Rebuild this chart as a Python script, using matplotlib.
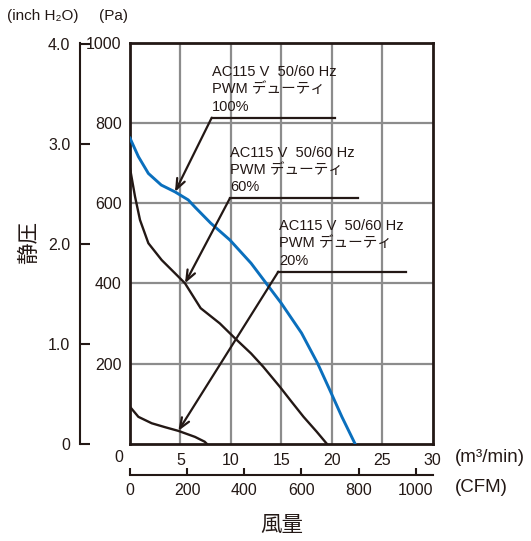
import matplotlib
matplotlib.use('Agg')
import matplotlib.pyplot as plt
from matplotlib import font_manager

# --- data ---
# airflow in m3/min, static pressure in Pa
flow_100 = [0, 0.83, 1.82, 3.1, 4.46, 5.77, 6.44, 8, 9.9, 12, 13.5, 15, 17, 18.6, 19.8, 21, 22.3]
pa_100 = [762, 716, 674, 645, 628, 608, 590, 550, 508, 450, 400, 350, 276, 200, 134, 67, 0]

flow_60 = [0, 0.5, 0.99, 1.82, 3.14, 4.46, 5.45, 7, 8.9, 10.4, 12, 13.2, 14.85, 16, 17.2, 18.5, 19.5]
pa_60 = [687, 616, 558, 500, 458, 425, 400, 338, 300, 263, 225, 192, 142, 105, 67, 30, 0]

flow_20 = [0, 0.83, 2.15, 3.5, 4.79, 6.44, 7.4, 7.6]
pa_20 = [92, 67, 51, 41, 32, 17, 5, 0]

x_ticks = [0, 5, 10, 15, 20, 25, 30]
pa_ticks = [0, 200, 400, 600, 800, 1000]
inch_ticks = [0, 1.0, 2.0, 3.0, 4.0]
cfm_ticks = [0, 200, 400, 600, 800, 1000]

labels = ['AC115 V  50/60 Hz\nPWM デューティ\n100%',
          'AC115 V  50/60 Hz\nPWM デューティ\n60%',
          'AC115 V  50/60 Hz\nPWM デューティ\n20%']
# leader: start of shelf line, end of shelf line, arrow tip
shelf_x0 = [8.1, 9.9, 14.7]
shelf_x1 = [20.3, 22.6, 27.4]
shelf_y = [813, 612, 429]
tip_x = [4.46, 5.45, 4.79]
tip_y = [628, 400, 32]

PA_PER_INCH = 249.09
CFM_PER_M3 = 35.3147

names = {f.name for f in font_manager.fontManager.ttflist}
narrow = 'Liberation Sans Narrow' if 'Liberation Sans Narrow' in names else 'Liberation Sans'
jp = ['Liberation Sans', 'Noto Sans CJK JP', 'DejaVu Sans']
num = [narrow, 'Noto Sans CJK JP', 'DejaVu Sans']
plt.rcParams['font.family'] = num

ink = '#231815'
blue = '#0a6fbd'
grid = '#8c8c8c'
tick_fs = 11.5

W, H = 531, 541
fig = plt.figure(figsize=(W / 100, H / 100), dpi=100)
ax = fig.add_axes([130 / W, 1 - 443.7 / H, (432.7 - 130) / W, (443.7 - 42.7) / H])

ax.set_xlim(0, 30)
ax.set_ylim(0, 1000)

for xv in x_ticks[1:-1]:
    ax.axvline(xv, color=grid, lw=1.6, zorder=1)
for yv in pa_ticks[1:-1]:
    ax.axhline(yv, color=grid, lw=1.6, zorder=1)

ax.plot(flow_100, pa_100, color=blue, lw=2.1, zorder=3)
ax.plot(flow_60, pa_60, color=ink, lw=1.7, zorder=3)
ax.plot(flow_20, pa_20, color=ink, lw=1.7, zorder=3)

for i in range(3):
    ax.plot([shelf_x0[i], shelf_x1[i]], [shelf_y[i], shelf_y[i]], color=ink, lw=1.6, zorder=4)
    ax.annotate('', xy=(tip_x[i], tip_y[i]), xytext=(shelf_x0[i], shelf_y[i]),
                arrowprops=dict(arrowstyle='->,head_length=0.75,head_width=0.3',
                                color=ink, lw=1.6, shrinkA=0, shrinkB=0), zorder=4)
    ax.text(shelf_x0[i] + 0.05, shelf_y[i] + 10, labels[i], family=jp, fontsize=10.5,
            color=ink, ha='left', va='bottom', linespacing=1.3, zorder=5)

for s in ax.spines.values():
    s.set_color(ink)
    s.set_linewidth(2)

ax.set_xticks(x_ticks)
ax.set_xticklabels([''] + [str(v) for v in x_ticks[1:]])
ax.set_yticks(pa_ticks)
ax.set_yticklabels([''] + [str(v) for v in pa_ticks[1:]])
ax.tick_params(axis='both', length=0, labelsize=tick_fs, colors=ink)
ax.tick_params(axis='x', pad=7)
ax.tick_params(axis='y', pad=6)

# inch H2O axis on the far left
ay = ax.secondary_yaxis(-50 / 302.7, functions=(lambda p: p / PA_PER_INCH,
                                                 lambda v: v * PA_PER_INCH))
ay.set_yticks(inch_ticks)
ay.set_yticklabels(['0', '1.0', '2.0', '3.0', '4.0'])
ay.tick_params(direction='in', length=7, width=1.5, pad=7, labelsize=tick_fs, colors=ink)
ay.spines['left'].set_color(ink)
ay.spines['left'].set_linewidth(1.5)

# CFM axis below
axc = ax.secondary_xaxis(-31.3 / 401, functions=(lambda m: m * CFM_PER_M3,
                                                  lambda c: c / CFM_PER_M3))
axc.set_xticks(cfm_ticks)
axc.tick_params(direction='in', length=5, width=1.5, pad=6, labelsize=tick_fs, colors=ink)
axc.spines['bottom'].set_color(ink)
axc.spines['bottom'].set_linewidth(1.5)

# corner zero, unit and axis titles
fig.text(119 / W, 1 - 457 / H, '0', fontsize=tick_fs, color=ink, ha='center', va='center')
fig.text(455 / W, 1 - 458 / H, '(m³/min)', fontsize=13.5, color=ink, ha='left', va='center')
fig.text(455 / W, 1 - 488 / H, '(CFM)', fontsize=13.5, color=ink, ha='left', va='center')
fig.text(43 / W, 1 - 16 / H, '(inch H₂O)', fontsize=11, color=ink, ha='center', va='center')
fig.text(113 / W, 1 - 16 / H, '(Pa)', fontsize=11, color=ink, ha='center', va='center')
fig.text(282 / W, 1 - 525 / H, '風量', family=['Noto Sans CJK JP'], fontsize=15.5,
         color=ink, ha='center', va='center')
fig.text(29 / W, 1 - 243 / H, '静圧', family=['Noto Sans CJK JP'], fontsize=15.5,
         color=ink, ha='center', va='center', rotation=90)

fig.savefig('out.png', dpi=100)
